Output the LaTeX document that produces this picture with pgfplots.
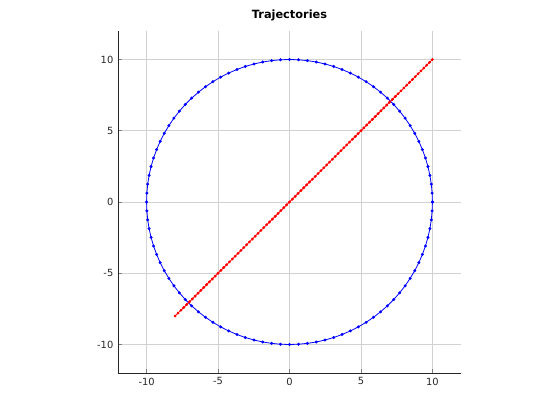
\documentclass[border=0pt]{standalone}
\usepackage{pgfplots}
\pgfplotsset{compat=1.18}
\usepackage{fontspec}
\setmainfont{DejaVu Sans}
\definecolor{tick}{HTML}{262626}
\begin{document}
\begin{tikzpicture}
\path[use as bounding box] (0pt,0pt) rectangle (420pt,315pt);
\begin{axis}[
  at={(88.5pt,35.25pt)}, anchor=south west,
  scale only axis, width=257.25pt, height=256.5pt,
  xmin=-12, xmax=12, ymin=-12, ymax=12,
  xtick={-10,-5,0,5,10}, ytick={-10,-5,0,5,10},
  axis x line*=bottom, axis y line*=left,
  axis line style={tick, line width=0.6pt, -},
  tick align=inside, major tick length=3pt,
  tick style={tick, line width=0.6pt},
  grid=major, grid style={gray!35, line width=0.5pt},
  ticklabel style={font=\fontsize{7.4}{8}\selectfont, text=tick},
  /pgf/number format/assume math mode=true,
  title={\bfseries Trajectories}, title style={font=\fontsize{8.5}{9}\selectfont\bfseries, yshift=-2pt},
]
\addplot[blue, line width=0.6pt, mark=*, mark size=0.8pt] coordinates {
(10,0) (9.980,0.628) (9.921,1.253) (9.823,1.874) (9.686,2.487) (9.511,3.090) (9.298,3.681) (9.048,4.258) (8.763,4.818) (8.443,5.358) (8.090,5.878) (7.705,6.374) (7.290,6.845)
(6.845,7.290) (6.374,7.705) (5.878,8.090) (5.358,8.443) (4.818,8.763) (4.258,9.048) (3.681,9.298) (3.090,9.511) (2.487,9.686) (1.874,9.823) (1.253,9.921) (0.628,9.980) (0,10)
(-0.628,9.980) (-1.253,9.921) (-1.874,9.823) (-2.487,9.686) (-3.090,9.511) (-3.681,9.298) (-4.258,9.048) (-4.818,8.763) (-5.358,8.443) (-5.878,8.090) (-6.374,7.705) (-6.845,7.290)
(-7.290,6.845) (-7.705,6.374) (-8.090,5.878) (-8.443,5.358) (-8.763,4.818) (-9.048,4.258) (-9.298,3.681) (-9.511,3.090) (-9.686,2.487) (-9.823,1.874) (-9.921,1.253) (-9.980,0.628) (-10,0)
(-9.980,-0.628) (-9.921,-1.253) (-9.823,-1.874) (-9.686,-2.487) (-9.511,-3.090) (-9.298,-3.681) (-9.048,-4.258) (-8.763,-4.818) (-8.443,-5.358) (-8.090,-5.878) (-7.705,-6.374) (-7.290,-6.845)
(-6.845,-7.290) (-6.374,-7.705) (-5.878,-8.090) (-5.358,-8.443) (-4.818,-8.763) (-4.258,-9.048) (-3.681,-9.298) (-3.090,-9.511) (-2.487,-9.686) (-1.874,-9.823) (-1.253,-9.921) (-0.628,-9.980) (0,-10)
(0.628,-9.980) (1.253,-9.921) (1.874,-9.823) (2.487,-9.686) (3.090,-9.511) (3.681,-9.298) (4.258,-9.048) (4.818,-8.763) (5.358,-8.443) (5.878,-8.090) (6.374,-7.705) (6.845,-7.290)
(7.290,-6.845) (7.705,-6.374) (8.090,-5.878) (8.443,-5.358) (8.763,-4.818) (9.048,-4.258) (9.298,-3.681) (9.511,-3.090) (9.686,-2.487) (9.823,-1.874) (9.921,-1.253) (9.980,-0.628) (10,0)
};
\addplot[red, line width=0.6pt, mark=*, mark size=0.75pt] coordinates {
(-8,-8) (-7.8,-7.8) (-7.6,-7.6) (-7.4,-7.4) (-7.2,-7.2) (-7,-7) (-6.8,-6.8) (-6.6,-6.6) (-6.4,-6.4) (-6.2,-6.2)
(-6,-6) (-5.8,-5.8) (-5.6,-5.6) (-5.4,-5.4) (-5.2,-5.2) (-5,-5) (-4.8,-4.8) (-4.6,-4.6) (-4.4,-4.4) (-4.2,-4.2)
(-4,-4) (-3.8,-3.8) (-3.6,-3.6) (-3.4,-3.4) (-3.2,-3.2) (-3,-3) (-2.8,-2.8) (-2.6,-2.6) (-2.4,-2.4) (-2.2,-2.2)
(-2,-2) (-1.8,-1.8) (-1.6,-1.6) (-1.4,-1.4) (-1.2,-1.2) (-1,-1) (-0.8,-0.8) (-0.6,-0.6) (-0.4,-0.4) (-0.2,-0.2)
(0,0) (0.2,0.2) (0.4,0.4) (0.6,0.6) (0.8,0.8) (1,1) (1.2,1.2) (1.4,1.4) (1.6,1.6) (1.8,1.8)
(2,2) (2.2,2.2) (2.4,2.4) (2.6,2.6) (2.8,2.8) (3,3) (3.2,3.2) (3.4,3.4) (3.6,3.6) (3.8,3.8)
(4,4) (4.2,4.2) (4.4,4.4) (4.6,4.6) (4.8,4.8) (5,5) (5.2,5.2) (5.4,5.4) (5.6,5.6) (5.8,5.8)
(6,6) (6.2,6.2) (6.4,6.4) (6.6,6.6) (6.8,6.8) (7,7) (7.2,7.2) (7.4,7.4) (7.6,7.6) (7.8,7.8)
(8,8) (8.2,8.2) (8.4,8.4) (8.6,8.6) (8.8,8.8) (9,9) (9.2,9.2) (9.4,9.4) (9.6,9.6) (9.8,9.8) (10,10)
};
\end{axis}
\end{tikzpicture}
\end{document}
